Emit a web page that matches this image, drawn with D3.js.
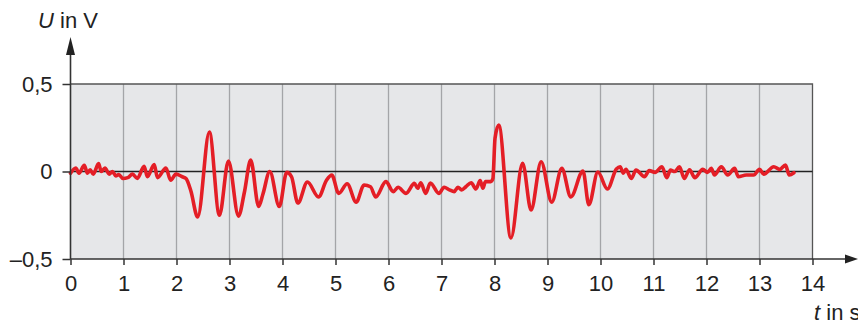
<!DOCTYPE html>
<html>
<head>
<meta charset="utf-8">
<script src="https://cdn.jsdelivr.net/npm/d3@7"></script>
<style>
  body { margin: 0; background: #fff; }
  svg { display: block; font-family: "Liberation Sans", Arial, sans-serif; }
</style>
</head>
<body>
<div id="chart"></div>
<script>
// time in s and voltage in V (peaks and troughs)
const tValues = [
  0.00, 0.10, 0.16, 0.26, 0.32, 0.37, 0.43, 0.53, 0.58, 0.65,
  0.73, 0.79, 0.855, 0.91, 0.99, 1.08, 1.17, 1.26, 1.39, 1.45,
  1.58, 1.64, 1.80, 1.89, 1.99, 2.11, 2.18, 2.27, 2.40, 2.62,
  2.81, 2.98, 3.17, 3.28, 3.40, 3.55, 3.63, 3.76, 3.94, 4.08,
  4.17, 4.29, 4.47, 4.68, 4.83, 4.93, 5.06, 5.22, 5.39, 5.54,
  5.66, 5.76, 5.95, 6.09, 6.18, 6.33, 6.49, 6.55, 6.61, 6.70,
  6.79, 6.95, 7.05, 7.15, 7.24, 7.31, 7.38, 7.46, 7.56, 7.65,
  7.73, 7.78, 7.83, 7.93, 7.97, 8.01, 8.08, 8.31, 8.53, 8.69,
  8.88, 9.08, 9.27, 9.44, 9.67, 9.78, 9.95, 10.13, 10.30, 10.37,
  10.43, 10.48, 10.58, 10.67, 10.83, 10.92, 11.03, 11.16, 11.25, 11.32,
  11.40, 11.49, 11.58, 11.68, 11.78, 11.93, 12.02, 12.09, 12.15, 12.28,
  12.40, 12.53, 12.60, 12.75, 12.89, 13.00, 13.08, 13.27, 13.38, 13.49,
  13.56, 13.65
];
const uValues = [
  -0.010, 0.020, -0.010, 0.035, -0.010, 0.010, -0.015, 0.045, 0.000, 0.020,
  -0.015, 0.000, -0.025, -0.017, -0.040, -0.035, -0.015, -0.040, 0.030, -0.030,
  0.040, -0.035, 0.020, -0.050, -0.015, -0.030, -0.040, -0.110, -0.260, 0.225,
  -0.250, 0.060, -0.255, -0.120, 0.065, -0.200, -0.130, 0.000, -0.200, -0.005,
  -0.030, -0.180, -0.060, -0.145, -0.050, -0.020, -0.125, -0.070, -0.175, -0.077,
  -0.087, -0.145, -0.058, -0.115, -0.090, -0.125, -0.068, -0.096, -0.064, -0.125,
  -0.066, -0.125, -0.090, -0.105, -0.115, -0.090, -0.105, -0.087, -0.064, -0.100,
  -0.052, -0.096, -0.058, -0.058, -0.040, 0.190, 0.265, -0.380, 0.047, -0.220,
  0.056, -0.175, 0.018, -0.145, 0.003, -0.190, -0.003, -0.100, 0.014, 0.027,
  -0.010, 0.012, -0.040, 0.008, -0.030, 0.005, -0.005, 0.027, -0.035, 0.008,
  0.000, 0.027, -0.040, 0.010, -0.035, 0.012, -0.005, 0.018, -0.020, 0.027,
  -0.020, 0.018, -0.030, -0.020, -0.020, 0.012, -0.015, 0.027, 0.012, 0.037,
  -0.020, -0.007
];
const xTicks = [0, 1, 2, 3, 4, 5, 6, 7, 8, 9, 10, 11, 12, 13, 14];
const yTicks = [-0.5, 0, 0.5];
const yTickLabels = ['\u20130,5', '0', '0,5'];

const width = 858, height = 325;
const x = d3.scaleLinear().domain([0, 14]).range([70.5, 812.5]);
const y = d3.scaleLinear().domain([-0.5, 0.5]).range([259, 84]);
const axisColor = '#333';
const fontSize = '22px';

const svg = d3.select('#chart').append('svg')
  .attr('width', width)
  .attr('height', height);

// plot area
svg.append('rect')
  .attr('x', x(0)).attr('y', y(0.5))
  .attr('width', x(14) - x(0)).attr('height', y(-0.5) - y(0.5))
  .attr('fill', '#e6e7e9');

// vertical grid
svg.append('g').selectAll('line')
  .data(xTicks.filter(d => d > 0 && d < 14))
  .enter().append('line')
  .attr('x1', d => x(d)).attr('x2', d => x(d))
  .attr('y1', y(0.5)).attr('y2', y(-0.5))
  .attr('stroke', '#a4a5a8').attr('stroke-width', 1.3);

// frame top / right
svg.append('path')
  .attr('d', `M${x(0)},${y(0.5)}H${x(14)}V${y(-0.5)}`)
  .attr('fill', 'none').attr('stroke', '#555').attr('stroke-width', 1.3);

// zero line
svg.append('line')
  .attr('x1', x(0)).attr('x2', x(14))
  .attr('y1', y(0)).attr('y2', y(0))
  .attr('stroke', '#222').attr('stroke-width', 1.3);

// signal
const line = d3.line()
  .x((d, i) => x(tValues[i]))
  .y(d => y(d))
  .curve(d3.curveMonotoneX);

svg.append('path')
  .datum(uValues)
  .attr('d', line)
  .attr('fill', 'none')
  .attr('stroke', '#e41e26')
  .attr('stroke-width', 3.6)
  .attr('stroke-linejoin', 'round')
  .attr('stroke-linecap', 'round');

// x axis with arrow
const xAxis = svg.append('g')
  .attr('transform', `translate(0,${y(-0.5)})`)
  .call(d3.axisBottom(x).tickValues(xTicks).tickSize(6).tickPadding(10).tickFormat(d => d));
xAxis.select('.domain').remove();
xAxis.selectAll('line').attr('stroke', axisColor).attr('stroke-width', 1.5);
xAxis.selectAll('text').attr('fill', '#222').style('font-size', fontSize);

svg.append('line')
  .attr('x1', x(0)).attr('x2', 847)
  .attr('y1', y(-0.5)).attr('y2', y(-0.5))
  .attr('stroke', axisColor).attr('stroke-width', 1.6);
svg.append('path')
  .attr('d', `M858,${y(-0.5)}L845,${y(-0.5) - 4.5}L845,${y(-0.5) + 4.5}Z`)
  .attr('fill', '#222');

// y axis with arrow
const yAxis = svg.append('g')
  .attr('transform', `translate(${x(0)},0)`)
  .call(d3.axisLeft(y).tickValues(yTicks).tickSize(8).tickPadding(10)
    .tickFormat((d, i) => yTickLabels[i]));
yAxis.select('.domain').remove();
yAxis.selectAll('line').attr('stroke', axisColor).attr('stroke-width', 1.5);
yAxis.selectAll('text').attr('fill', '#222').style('font-size', fontSize);

svg.append('line')
  .attr('x1', x(0)).attr('x2', x(0))
  .attr('y1', 52).attr('y2', y(-0.5))
  .attr('stroke', axisColor).attr('stroke-width', 1.6);
svg.append('path')
  .attr('d', `M${x(0)},37L${x(0) - 4.5},55L${x(0) + 4.5},55Z`)
  .attr('fill', '#222');

// axis titles
const yTitle = svg.append('text').attr('x', 38).attr('y', 28)
  .attr('fill', '#222').style('font-size', fontSize);
yTitle.append('tspan').attr('font-style', 'italic').text('U');
yTitle.append('tspan').text(' in V');

const xTitle = svg.append('text').attr('x', 814).attr('y', 320)
  .attr('fill', '#222').style('font-size', fontSize);
xTitle.append('tspan').attr('font-style', 'italic').text('t');
xTitle.append('tspan').text(' in s');
</script>
</body>
</html>
